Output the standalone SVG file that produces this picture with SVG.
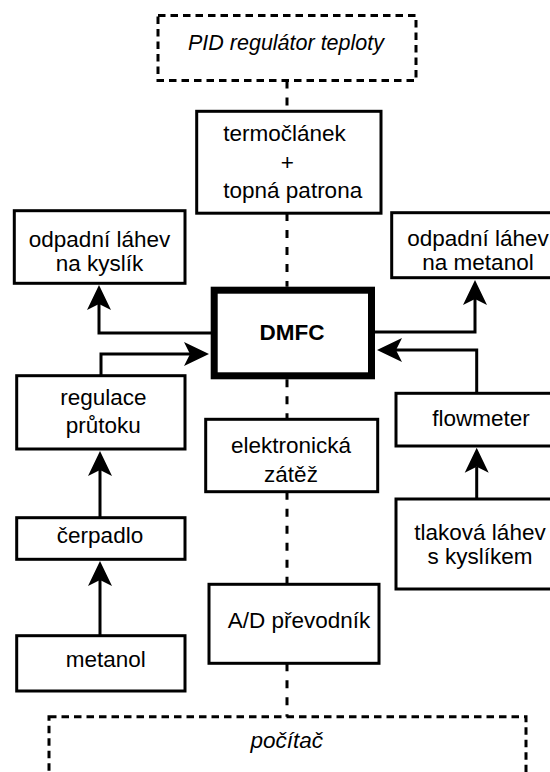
<svg xmlns="http://www.w3.org/2000/svg" width="550" height="772" viewBox="0 0 550 772">
<style>
  .box { fill: #fff; stroke: #000; stroke-width: 3; }
  .dbox { fill: none; stroke: #000; stroke-width: 3; stroke-dasharray: 7.5 5; }
  .thick { fill: #fff; stroke: #000; stroke-width: 7; }
  .dline { fill: none; stroke: #000; stroke-width: 3; stroke-dasharray: 8 9; }
  .arr { fill: none; stroke: #000; stroke-width: 3; marker-end: url(#ah); }
  text { font-family: "Liberation Sans", Arial, sans-serif; font-size: 22.5px; fill: #000; }
  .c { text-anchor: middle; }
  .it { font-style: italic; }
  .b { font-weight: bold; }
</style>
<defs>
  <marker id="ah" markerUnits="userSpaceOnUse" markerWidth="28" markerHeight="28" viewBox="-7 -13 28 26" refX="0" refY="0" orient="auto">
    <path d="M19,0 L-6,-12 L0,0 L-6,12 Z" fill="#000"/>
  </marker>
</defs>
<rect width="550" height="772" fill="#fff"/>

<g id="connectors">
  <path class="dline" d="M287,80.5 V111.3"/>
  <path class="dline" d="M287,213 V286.7"/>
  <path class="dline" d="M287,379.3 V419.3"/>
  <path class="dline" d="M287,491.7 V584.3"/>
  <path class="dline" d="M287,663.3 V716.7"/>
  <path class="arr" d="M211,333 H99 V304"/>
  <path class="arr" d="M375,332 H475 V299"/>
  <path class="arr" d="M101,375 V354 H190"/>
  <path class="arr" d="M476.7,393 V350 H396"/>
  <path class="arr" d="M100,517 V470"/>
  <path class="arr" d="M100,635 V580"/>
  <path class="arr" d="M476.7,499 V466.7"/>
</g>

<g id="pid">
  <rect class="dbox" x="158" y="15.5" width="258" height="65"/>
  <text class="c it" x="286" y="50" style="font-size:21.5px">PID regulátor teploty</text>
</g>
<g id="termoclanek">
  <rect class="box" x="196.7" y="111.3" width="184.3" height="101.9"/>
  <text x="223.3" y="141">termočlánek</text>
  <text class="c" x="287.3" y="170">+</text>
  <text x="223.3" y="198">topná patrona</text>
</g>
<g id="odpad-kyslik">
  <rect class="box" x="14.3" y="210.7" width="170.7" height="72.6"/>
  <text class="c" x="99.5" y="247">odpadní láhev</text>
  <text class="c" x="99.5" y="271">na kyslík</text>
</g>
<g id="odpad-metanol">
  <rect class="box" x="391.7" y="212.7" width="175" height="65"/>
  <text class="c" x="478" y="246">odpadní láhev</text>
  <text class="c" x="478" y="270">na metanol</text>
</g>
<g id="dmfc">
  <rect class="thick" x="214.2" y="290.2" width="157.3" height="85.6"/>
  <text class="c b" x="292" y="340">DMFC</text>
</g>
<g id="regulace">
  <rect class="box" x="16.7" y="375.7" width="168.3" height="73.3"/>
  <text class="c" x="103.3" y="405">regulace</text>
  <text class="c" x="103.3" y="433">průtoku</text>
</g>
<g id="zatez">
  <rect class="box" x="205.7" y="419.3" width="172" height="72.4"/>
  <text class="c" x="291" y="453.3">elektronická</text>
  <text class="c" x="291" y="481.7">zátěž</text>
</g>
<g id="flowmeter">
  <rect class="box" x="396" y="393.3" width="172" height="52.7"/>
  <text class="c" x="481" y="425.7">flowmeter</text>
</g>
<g id="tlakova">
  <rect class="box" x="396" y="499" width="172" height="90"/>
  <text class="c" x="480" y="539.5">tlaková láhev</text>
  <text class="c" x="480" y="564">s kyslíkem</text>
</g>
<g id="cerpadlo">
  <rect class="box" x="16.7" y="517.7" width="168.3" height="41.6"/>
  <text class="c" x="100" y="543.3">čerpadlo</text>
</g>
<g id="metanol">
  <rect class="box" x="16.7" y="635.7" width="168.3" height="55.3"/>
  <text class="c" x="105.8" y="667.3">metanol</text>
</g>
<g id="ad">
  <rect class="box" x="209" y="584.3" width="170" height="79"/>
  <text class="c" x="299" y="628">A/D převodník</text>
</g>
<g id="pocitac">
  <rect class="dbox" x="49" y="716.7" width="477" height="100"/>
  <text class="c it" x="286.7" y="748.3">počítač</text>
</g>
</svg>
